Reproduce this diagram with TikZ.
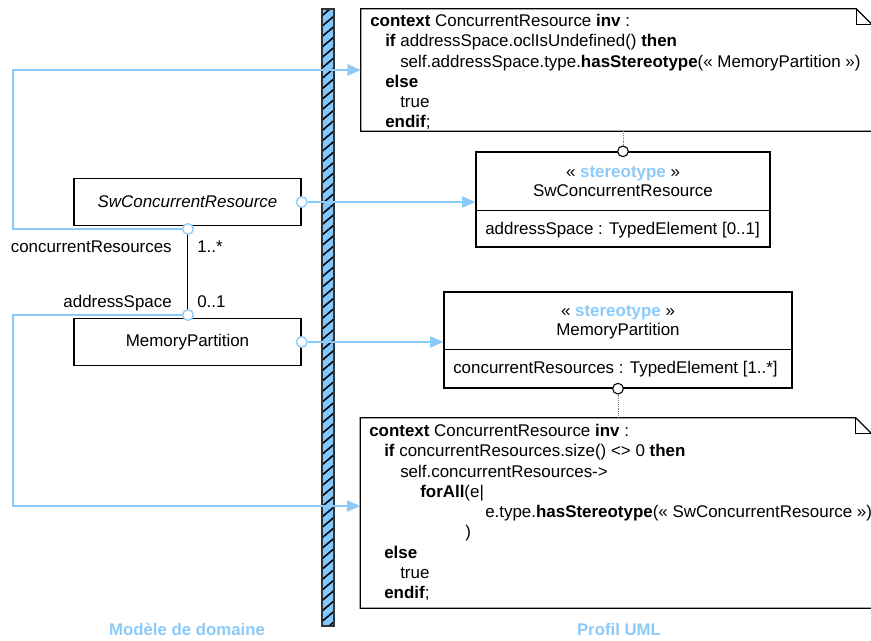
\documentclass[tikz,border=0pt]{standalone}
\usepackage{fontspec}
\setmainfont{Liberation Sans}
\usetikzlibrary{arrows.meta,patterns.meta}

\definecolor{linkblue}{RGB}{140,202,250}
\definecolor{barblue}{RGB}{128,200,255}

\tikzset{
  every node/.style={font=\fontsize{12.7}{15.2}\selectfont, inner sep=0pt},
  classbox/.style={draw, line width=1pt, minimum width=170.25pt, minimum height=35.5pt},
  stbox/.style={draw, line width=1pt},
  notebox/.style={minimum width=383.25pt},
  link/.style={draw=linkblue, line width=1.1pt, -{Triangle[length=10pt,width=8.5pt]}},
  bluering/.style={circle, draw=linkblue, fill=white, line width=1pt, minimum size=8pt},
  ring/.style={circle, draw, fill=white, line width=0.8pt, minimum size=8pt},
  anchorline/.style={densely dotted, draw=gray},
  caption/.style={text=linkblue, font=\fontsize{12.6}{15}\selectfont\bfseries},
  sepbar/.style={draw=black!80, line width=0.8pt, preaction={fill=barblue},
    pattern={Lines[angle=40,distance=6pt,line width=1.2pt]},
    minimum width=9pt, minimum height=462.75pt},
}

\begin{document}
\begin{tikzpicture}[x=0.75pt, y=-0.75pt]
  \useasboundingbox (0,0) rectangle (871,641);

  \node[sepbar] (wall) at (328,317.5) {};

  % domain model
  \node[classbox] (swcr) at (187.5,202) {\textit{SwConcurrentResource}};
  \node[classbox] (mp) at (187.5,342) {MemoryPartition};
  \draw[line width=0.8pt] (swcr.south) -- (mp.north);
  \node[anchor=base east] (role-cr) at (172,253) {concurrentResources};
  \node[anchor=base west] (mult-cr) at (197,253) {1..*};
  \node[anchor=base east] (role-as) at (172,308) {addressSpace};
  \node[anchor=base west] (mult-as) at (197,308) {0..1};

  % stereotypes
  \node[stbox, minimum width=220.5pt, minimum height=71.25pt] (st1) at (623,199.5) {};
  \node[anchor=base] (st1-kw) at (623,178) {« \textcolor{linkblue}{\textbf{stereotype}} »};
  \node[anchor=base] (st1-name) at (623,197) {SwConcurrentResource};
  \draw[line width=1pt] ([yshift=27.75pt]st1.south west) -- ([yshift=27.75pt]st1.south east);
  \node[anchor=base west] (st1-attr) at (485,235) {addressSpace : TypedElement [0..1]};

  \node[stbox, minimum width=261pt, minimum height=72pt] (st2) at (618,340) {};
  \node[anchor=base] (st2-kw) at (618,317) {« \textcolor{linkblue}{\textbf{stereotype}} »};
  \node[anchor=base] (st2-name) at (618,336) {MemoryPartition};
  \draw[line width=1pt] ([yshift=29.25pt]st2.south west) -- ([yshift=29.25pt]st2.south east);
  \node[anchor=base west] (st2-attr) at (453,374) {concurrentResources : TypedElement [1..*]};

  % OCL notes
  \node[notebox, minimum height=91.5pt] (ocl1) at (616.5,70) {};
  \draw[line width=1pt] ([xshift=-12pt]ocl1.north east) -- (ocl1.north west) -- (ocl1.south west)
    -- (ocl1.south east) -- ([yshift=-12pt]ocl1.north east) -- cycle;
  \draw[line width=1pt] ([xshift=-12pt]ocl1.north east) |- ([yshift=-12pt]ocl1.north east);
  \node[anchor=north west, align=left] (ocl1-text) at (370,14) {%
    \textbf{context} ConcurrentResource \textbf{inv} :\\
    \hspace*{11.25pt}\textbf{if} addressSpace.oclIsUndefined() \textbf{then}\\
    \hspace*{22.5pt}self.addressSpace.type.\textbf{hasStereotype}(« MemoryPartition »)\\
    \hspace*{11.25pt}\textbf{else}\\
    \hspace*{22.5pt}true\\
    \hspace*{11.25pt}\textbf{endif};};

  \node[notebox, minimum height=142.5pt] (ocl2) at (616,513) {};
  \draw[line width=1pt] ([xshift=-12pt]ocl2.north east) -- (ocl2.north west) -- (ocl2.south west)
    -- (ocl2.south east) -- ([yshift=-12pt]ocl2.north east) -- cycle;
  \draw[line width=1pt] ([xshift=-12pt]ocl2.north east) |- ([yshift=-12pt]ocl2.north east);
  \node[anchor=north west, align=left] (ocl2-text) at (369,424) {%
    \textbf{context} ConcurrentResource \textbf{inv} :\\
    \hspace*{11.25pt}\textbf{if} concurrentResources.size() <> 0 \textbf{then}\\
    \hspace*{23.25pt}self.concurrentResources->\\
    \hspace*{38.25pt}\textbf{forAll}(e|\\
    \hspace*{87pt}e.type.\textbf{hasStereotype}(« SwConcurrentResource »)\\
    \hspace*{72pt})\\
    \hspace*{11.25pt}\textbf{else}\\
    \hspace*{23.25pt}true\\
    \hspace*{11.25pt}\textbf{endif};};

  % links
  \node[bluering] (c1) at (188,229) {};
  \node[bluering] (c2) at (188,315) {};
  \node[bluering] (c3) at (swcr.east) {};
  \node[bluering] (c4) at (mp.east) {};
  \coordinate (k1) at (13,70);
  \coordinate (k2) at (13,506);
  \draw[link] (c1.west) -| (k1) -- (ocl1.west);
  \draw[link] (c2.west) -| (k2) -- (k2 -| ocl2.west);
  \draw[link] (c3.east) -- (c3 -| st1.west);
  \draw[link] (c4.east) -- (c4 -| st2.west);
  \node[ring] (c5) at (st1.north) {};
  \node[ring] (c6) at (st2.south) {};
  \draw[anchorline] (c5 |- ocl1.south) -- (c5.north);
  \draw[anchorline] (c6.south) -- (c6 |- ocl2.north);

  \node[caption, anchor=base] (dom) at (187,635) {Modèle de domaine};
  \node[caption, anchor=base] (uml) at (619,635) {Profil UML};
\end{tikzpicture}
\end{document}
